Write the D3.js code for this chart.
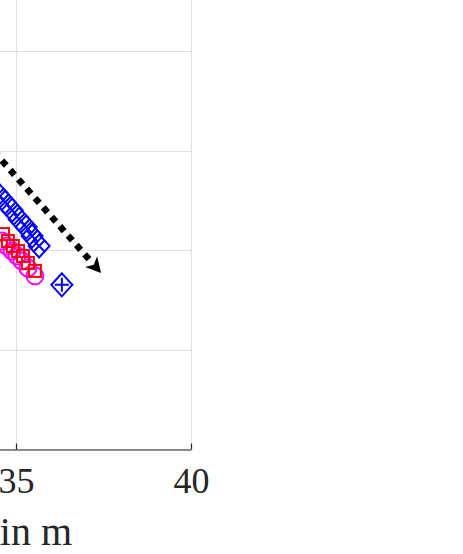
<!DOCTYPE html>
<html>
<head>
<meta charset="utf-8">
<script src="https://cdn.jsdelivr.net/npm/d3@7"></script>
<style>
  html, body { margin: 0; padding: 0; background: #ffffff; }
  svg { display: block; }
</style>
</head>
<body>
<svg id="chart" width="463" height="554"></svg>
<script>
// ---- data ----
const xTicks = [30, 35, 40];
const yTicks = [0, 1, 2, 3, 4];
const xLabel = "in m";

// blue diamonds with x
const diamondX = [34.49, 34.69, 34.89, 35.09, 35.29, 35.46, 35.66];
const diamondY = [2.56, 2.48, 2.40, 2.31, 2.23, 2.14, 2.04];
// red squares
const squareX = [34.63, 34.77, 34.91, 35.06, 35.20, 35.34, 35.54];
const squareY = [2.16, 2.09, 2.04, 1.99, 1.94, 1.87, 1.79];
// magenta circles
const circleX = [34.60, 34.74, 34.89, 35.03, 35.17, 35.34, 35.54];
const circleY = [2.09, 2.04, 1.99, 1.94, 1.89, 1.82, 1.74];
// single blue diamond with +
const plusX = [36.31];
const plusY = [1.65];
// dotted trend arrow
const arrowX = [33.69, 37.43];
const arrowY = [3.26, 1.77];

// ---- layout ----
const svg = d3.select("#chart");
const right = 191, bottom = 449;
const x = d3.scaleLinear().domain([30, 40]).range([right - 350, right]);
const y = d3.scaleLinear().domain([0, 5]).range([bottom, bottom - 5 * 99.5]);

const axisColor = "#262626";
const gridColor = "#e1e1e1";

// grid
const grid = svg.append("g");
grid.selectAll("line.h").data(yTicks).join("line")
  .attr("x1", x(30)).attr("x2", right)
  .attr("y1", d => Math.round(y(d)) + 0.5).attr("y2", d => Math.round(y(d)) + 0.5)
  .attr("stroke", gridColor).attr("stroke-width", 1);
grid.selectAll("line.v").data(xTicks).join("line")
  .attr("x1", d => Math.round(x(d)) + 0.5).attr("x2", d => Math.round(x(d)) + 0.5)
  .attr("y1", y(5)).attr("y2", bottom)
  .attr("stroke", gridColor).attr("stroke-width", 1.2);

// x axis
const xAxis = d3.axisBottom(x).tickValues(xTicks).tickSizeInner(-6).tickSizeOuter(0)
  .tickPadding(16).tickFormat(d3.format("d"));
const gx = svg.append("g").attr("transform", `translate(0,${bottom + 0.5})`).call(xAxis);
gx.select(".domain").attr("stroke", axisColor).attr("stroke-width", 1.2);
gx.selectAll(".tick line").attr("stroke", axisColor).attr("stroke-width", 1.2);
gx.selectAll(".tick text")
  .attr("fill", axisColor)
  .style("font-family", "'Liberation Serif', 'Times New Roman', serif")
  .style("font-size", "36px")
  .attr("dy", "0.76em");

svg.append("text")
  .attr("x", 72).attr("y", 545)
  .attr("text-anchor", "end")
  .attr("fill", axisColor)
  .style("font-family", "'Liberation Serif', 'Times New Roman', serif")
  .style("font-size", "40px")
  .text(xLabel);

// dotted arrow
const ax0 = x(arrowX[0]), ay0 = y(arrowY[0]), ax1 = x(arrowX[1]), ay1 = y(arrowY[1]);
const dx = ax1 - ax0, dy = ay1 - ay0, len = Math.hypot(dx, dy);
const ux = dx / len, uy = dy / len;
const headLen = 15, headHalf = 8;
const bx = ax1 - ux * headLen, by = ay1 - uy * headLen;
svg.append("line")
  .attr("x1", ax0).attr("y1", ay0).attr("x2", bx + ux * 2).attr("y2", by + uy * 2)
  .attr("stroke", "#000").attr("stroke-width", 6.5)
  .attr("stroke-dasharray", "6.5,6").attr("stroke-dashoffset", 2);
svg.append("path")
  .attr("d", `M${ax1},${ay1} L${bx - uy * headHalf},${by + ux * headHalf} L${bx + ux * 4},${by + uy * 4} L${bx + uy * headHalf},${by - ux * headHalf} Z`)
  .attr("fill", "#000");

// markers
const circles = d3.zip(circleX, circleY);
svg.append("g").selectAll("circle").data(circles).join("circle")
  .attr("cx", d => x(d[0])).attr("cy", d => y(d[1])).attr("r", 8.5)
  .attr("fill", "none").attr("stroke", "#ff00ff").attr("stroke-width", 2);

const squares = d3.zip(squareX, squareY);
const s = 6;
svg.append("g").selectAll("rect").data(squares).join("rect")
  .attr("x", d => x(d[0]) - s).attr("y", d => y(d[1]) - s)
  .attr("width", 2 * s).attr("height", 2 * s)
  .attr("fill", "none").attr("stroke", "#ff0000").attr("stroke-width", 2);

function diamondPath(cx, cy, hw, hh) {
  return `M${cx},${cy - hh} L${cx + hw},${cy} L${cx},${cy + hh} L${cx - hw},${cy} Z`;
}
const diamonds = d3.zip(diamondX, diamondY);
const gd = svg.append("g").attr("stroke", "#0000ff").attr("stroke-width", 2).attr("fill", "none");
gd.selectAll("path.d").data(diamonds).join("path").attr("class", "d")
  .attr("d", d => diamondPath(x(d[0]), y(d[1]), 10.5, 11.5));
gd.selectAll("path.x").data(diamonds).join("path").attr("class", "x")
  .attr("d", d => {
    const cx = x(d[0]), cy = y(d[1]), r = 6;
    return `M${cx - r},${cy - r} L${cx + r},${cy + r} M${cx - r},${cy + r} L${cx + r},${cy - r}`;
  });

const pluses = d3.zip(plusX, plusY);
const gp = svg.append("g").attr("stroke", "#0000ff").attr("stroke-width", 2).attr("fill", "none");
gp.selectAll("path.d").data(pluses).join("path").attr("class", "d")
  .attr("d", d => diamondPath(x(d[0]), y(d[1]), 10.5, 11.5));
gp.selectAll("path.p").data(pluses).join("path").attr("class", "p")
  .attr("d", d => {
    const cx = x(d[0]), cy = y(d[1]), r = 7;
    return `M${cx - r},${cy} L${cx + r},${cy} M${cx},${cy - r} L${cx},${cy + r}`;
  });
</script>
</body>
</html>
